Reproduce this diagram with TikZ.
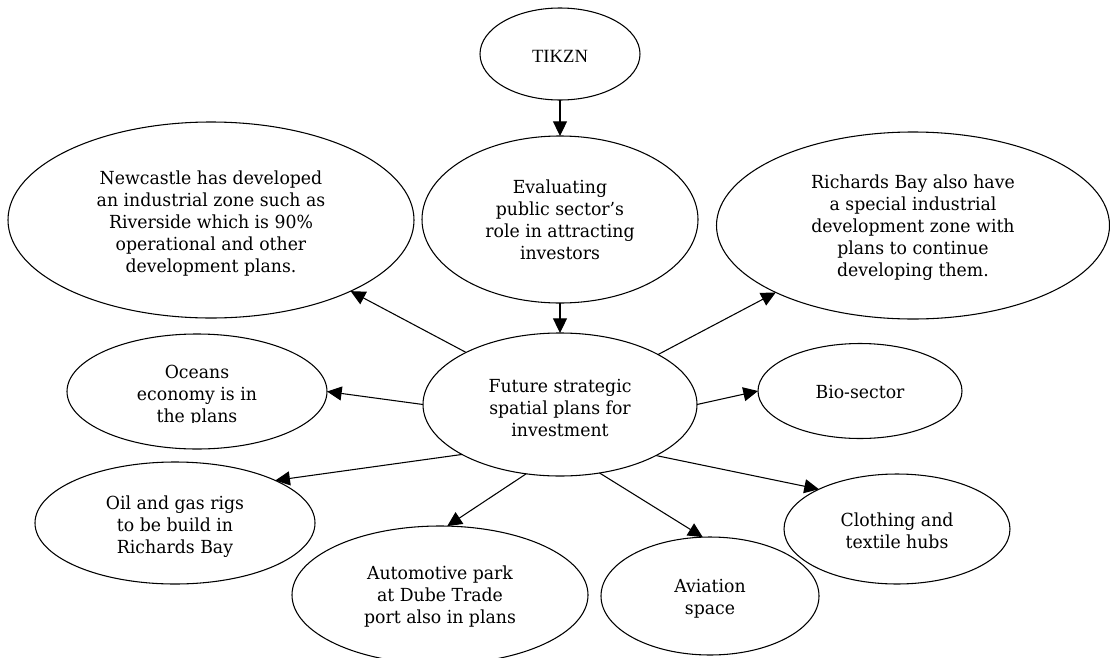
\documentclass[tikz,border=0pt]{standalone}
\usepackage{fontspec}
\setmainfont[FakeStretch=0.96]{DejaVu Serif}
\newfontfamily\timesf{Liberation Serif}
\usetikzlibrary{shapes.geometric,arrows.meta}
\tikzset{
  ell/.style 2 args={ellipse, draw, line width=0.8pt, minimum width=#1*1.5pt, minimum height=#2*1.5pt,
    inner sep=0pt, outer sep=0pt},
  txt/.style={inner sep=0pt, align=center, font=\fontsize{13.5}{16.5}\selectfont},
  tx/.style 2 args={label={[txt,yshift=-#1*0.75pt]center:{#2}}},
  arr/.style={line width=0.8pt, -{Triangle[length=11pt,width=10.5pt]}}
}
\begin{document}
\begin{tikzpicture}[x=0.75pt,y=-0.75pt]
\useasboundingbox (0,0) rectangle (1110,657);
\clip (0,0) rectangle (1110,657);
\node[ell={80}{46}, label={[txt,yshift=-1.5pt,font=\timesf\fontsize{14}{16.5}\selectfont]center:TIKZN}] (tikzn) at (560,54) {};
\node[ell={138}{83.5}, tx={0}{Evaluating\\public sector's\\role in attracting\\investors}] (eval) at (560,219.5) {};
\node[ell={137}{71.5}, tx={3}{Future strategic\\spatial plans for\\investment}] (future) at (560,404.5) {};
\node[ell={203}{98}, tx={4}{Newcastle has developed\\an industrial zone such as\\Riverside which is 90\%\\operational and other\\development plans.}] (newc) at (211,220) {};
\node[ell={196.5}{93.5}, tx={2.5}{Richards Bay also have\\a special industrial\\development zone with\\plans to continue\\developing them.}] (rich) at (913,225.5) {};
\node[ell={130}{57.5}] (oceans) at (197,391.5) {};
\begin{scope}
\clip (0,300) rectangle (400,422);
\node[txt] (oceanstext) at (197,396) {Oceans\\economy is in\\the plans};
\end{scope}
\node[ell={102}{47.5}, tx={1}{Bio-sector}] (bio) at (860,391) {};
\node[ell={140}{61}, tx={3.5}{Oil and gas rigs\\to be build in\\Richards Bay}] (oil) at (175,523) {};
\node[ell={148}{69}, tx={2}{Automotive park\\at Dube Trade\\port also in plans}] (auto) at (440,595) {};
\node[ell={109}{59}, tx={3}{Aviation\\space}] (avia) at (710,596) {};
\node[ell={113}{55}, tx={2}{Clothing and\\textile hubs}] (cloth) at (897,529) {};

\draw[arr] (tikzn.south) -- (eval.north);
\draw[arr] (eval.south) -- (future.north);
\draw[arr] (future.151.8) -- (newc.333.4);
\draw[arr] (future.27.3) -- (rich.206);
\draw[arr] (future.180) -- (oceans.0);
\draw[arr] (future.0) -- (bio.180);
\draw[arr] (future.207.5) -- (oil.23.3);
\draw[arr] (future.244.6) -- (auto.84);
\draw[arr] (future.300.3) -- (avia.97);
\draw[arr] (future.332.7) -- (cloth.153.7);
\end{tikzpicture}
\end{document}
